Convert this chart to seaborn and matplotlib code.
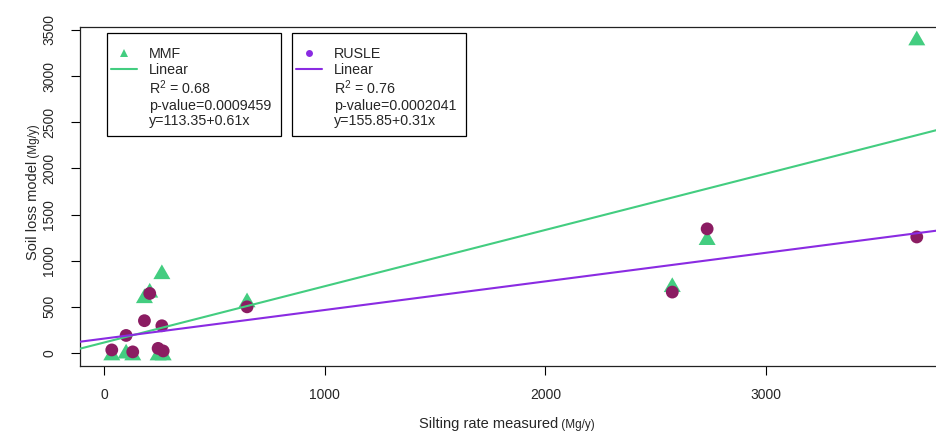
import numpy as np
import pandas as pd
import seaborn as sns
from matplotlib import pyplot as plt
from matplotlib.lines import Line2D
from matplotlib.patches import Rectangle

# values
silting = [35, 100, 130, 183, 207, 245, 262, 268, 648, 2575, 2733, 3683]
mmf = [0, 20, 0, 620, 680, 0, 880, 0, 575, 740, 1250, 3413]
rusle = [33, 190, 12, 350, 645, 50, 295, 22, 500, 660, 1345, 1257]

# fitted lines as printed in the legend
mmf_fit = (113.35, 0.61)
rusle_fit = (155.85, 0.31)
mmf_text = ["R$^2$ = 0.68", "p-value=0.0009459", "y=113.35+0.61x"]
rusle_text = ["R$^2$ = 0.76", "p-value=0.0002041", "y=155.85+0.31x"]

x_ticks = [0, 1000, 2000, 3000]
y_ticks = [0, 500, 1000, 1500, 2000, 2500, 3000, 3500]

green = "#43CD80"
maroon = "#8B1C62"
violet = "#8A2BE2"

sns.set_theme()
sns.set_style("white")
plt.rcParams['font.family'] = ['Liberation Sans', 'DejaVu Sans']
plt.rcParams['mathtext.fontset'] = 'custom'
plt.rcParams['mathtext.rm'] = 'Liberation Sans'
plt.rcParams['mathtext.it'] = 'Liberation Sans'

df = pd.DataFrame({'silting': silting, 'MMF': mmf, 'RUSLE': rusle})

W, H = 937, 436
fig = plt.figure(figsize=(W / 100, H / 100), dpi=100)
# plot region reaches past the right edge, like the cropped original
ax = fig.add_axes([80 / W, 70 / H, 869 / W, 339 / H])

tri = [(-1, -0.866), (1, -0.866), (0, 0.866)]
sns.scatterplot(data=df, x='silting', y='MMF', marker=tri, s=150, color=green,
                edgecolor='none', linewidth=0, ax=ax, zorder=2)
sns.scatterplot(data=df, x='silting', y='RUSLE', marker='o', s=85, color=maroon,
                edgecolor='none', linewidth=0, ax=ax, zorder=3)

ax.axline((0, mmf_fit[0]), slope=mmf_fit[1], color=green, lw=1.5, zorder=4)
ax.axline((0, rusle_fit[0]), slope=rusle_fit[1], color=violet, lw=1.5, zorder=4)

ax.set_xlim(-109, 3829)
ax.set_ylim(-141, 3532)
ax.set_xticks(x_ticks)
ax.set_yticks(y_ticks)
ax.set_xticklabels([str(t) for t in x_ticks], fontsize=10)
ax.set_yticklabels([str(t) for t in y_ticks], fontsize=10, rotation=90, va='center')
ax.tick_params(axis='x', direction='out', length=6.5, width=0.8, color='black',
               pad=9, bottom=True)
ax.tick_params(axis='y', direction='out', length=6.5, width=0.8, color='black',
               pad=10.5, left=True)
for sp in ax.spines.values():
    sp.set_color('#222222')
    sp.set_linewidth(0.9)
ax.set_xlabel('')
ax.set_ylabel('')

# axis titles with a smaller unit part
xl = fig.text(558 / W, 1 - 428 / H, 'Silting rate measured', fontsize=10.5,
              ha='right', va='baseline')
ax.annotate(' (Mg/y)', xy=(1, 0), xycoords=xl, fontsize=8.5, ha='left', va='bottom')
yl = fig.text(37 / W, 1 - 260 / H, 'Soil loss model', fontsize=10.5, rotation=90,
              ha='left', va='baseline', rotation_mode='anchor')
ax.annotate(' (Mg/y)', xy=(1, 1), xycoords=yl, fontsize=8.5, rotation=90,
            ha='right', va='bottom')


def legend_box(label, marker, msize, color, lines, left):
    blank = Line2D([], [], linestyle='none', marker=None)
    handles = [Line2D([], [], linestyle='none', marker=marker, markersize=msize,
                      color=color, markeredgewidth=0),
               Line2D([], [], color=color, lw=1.5),
               blank, blank, blank]
    labels = [label, 'Linear'] + lines
    leg = ax.legend(handles, labels, loc='upper left',
                    bbox_to_anchor=((left - 1) / W, 1 - 42 / H), bbox_transform=fig.transFigure,
                    fontsize=10.3, frameon=False, borderpad=0.35, labelspacing=0.12,
                    handlelength=1.8, handletextpad=0.85, borderaxespad=0)
    leg.set_zorder(6)
    box = Rectangle((left / W, 1 - 136 / H), 174 / W, 103 / H, transform=fig.transFigure,
                    fill=True, facecolor='white', edgecolor='black', lw=0.9, zorder=5,
                    clip_on=False)
    ax.add_patch(box)
    return leg


leg1 = legend_box('MMF', '^', 6, green, mmf_text, 107)
ax.add_artist(leg1)
legend_box('RUSLE', 'o', 5, violet, rusle_text, 292)

fig.savefig('out.png', dpi=100)
